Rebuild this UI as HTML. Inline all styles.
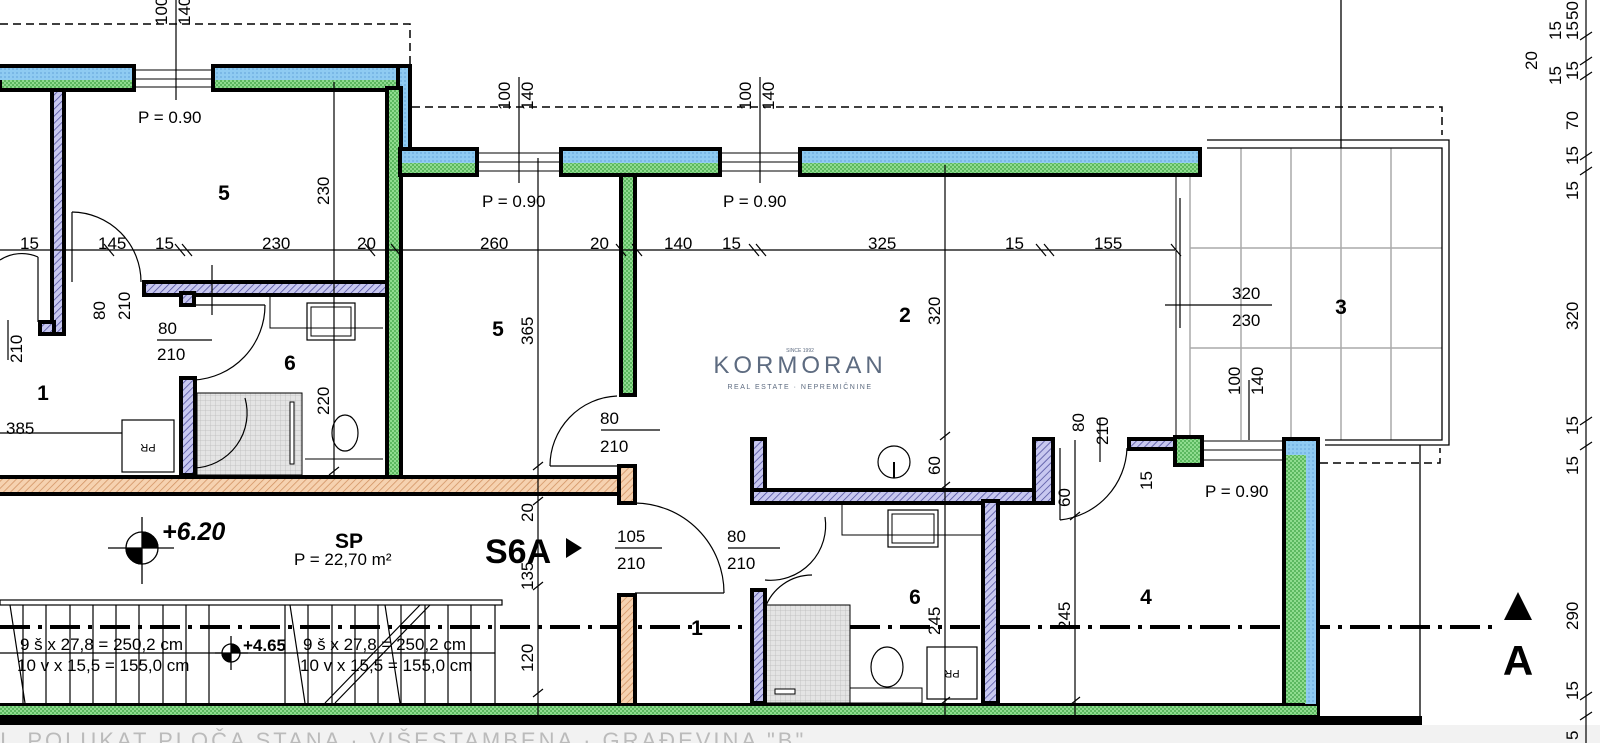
<!DOCTYPE html>
<html><head><meta charset="utf-8"><style>
html,body{margin:0;padding:0;background:#fff;}
svg{display:block;font-family:"Liberation Sans",sans-serif;}
</style></head><body>
<svg width="1600" height="743" viewBox="0 0 1600 743" xmlns="http://www.w3.org/2000/svg">
<defs>
<pattern id="g" width="4" height="4" patternUnits="userSpaceOnUse"><rect width="4" height="4" fill="#8fdc8f"/><rect width="2" height="2" fill="#5cb860"/><rect x="2" y="2" width="2" height="2" fill="#5cb860"/></pattern>
<pattern id="b" width="4" height="4" patternUnits="userSpaceOnUse"><rect width="4" height="4" fill="#8fcbf2"/><rect width="2" height="2" fill="#7ab8e6"/></pattern>
<pattern id="p" width="5" height="5" patternUnits="userSpaceOnUse" patternTransform="rotate(45)"><rect width="5" height="5" fill="#c8c8f0"/><line x1="0" y1="0" x2="0" y2="5" stroke="#4a4a9a" stroke-width="1.5"/></pattern>
<pattern id="o" width="5" height="5" patternUnits="userSpaceOnUse" patternTransform="rotate(45)"><rect width="5" height="5" fill="#f6d2b0"/><line x1="0" y1="0" x2="0" y2="5" stroke="#d09060" stroke-width="1.5"/></pattern>
<pattern id="s" width="5" height="5" patternUnits="userSpaceOnUse"><rect width="5" height="5" fill="#e4e4e4"/><path d="M0 0H5M0 0V5" stroke="#b8b8b8" stroke-width="0.7"/></pattern>
</defs>

<g stroke="#000" stroke-width="1.5" stroke-dasharray="8,5" fill="none">
<path d="M0 24H410V64"/>
<path d="M412 107H1442V135"/>
<path d="M1320 463H1440V448"/>
</g>

<g stroke="#aaa" stroke-width="1.5" fill="none">
<line x1="1241" y1="148" x2="1241" y2="440"/><line x1="1291" y1="148" x2="1291" y2="440"/>
<line x1="1341" y1="148" x2="1341" y2="440"/><line x1="1391" y1="148" x2="1391" y2="440"/>
<line x1="1190" y1="248" x2="1442" y2="248"/><line x1="1190" y1="348" x2="1442" y2="348"/>
<line x1="1190" y1="177" x2="1190" y2="437"/>
</g>
<g stroke="#000" stroke-width="1.3" fill="none">
<path d="M1207 140H1449V445H1325"/><path d="M1207 148H1442V440H1325"/>
<line x1="1341" y1="0" x2="1341" y2="148"/>
<line x1="1420" y1="445" x2="1420" y2="717"/>
</g>

<g stroke="#000" stroke-width="1.2" fill="none">
<rect x="0" y="600" width="502" height="5"/>
<line x1="0" y1="653" x2="495" y2="653"/>
<path d="M23 605V703M46 605V703M70 605V703M93 605V703M116 605V703M139 605V703M163 605V703M186 605V703M209 605V703M285 605V703M308 605V703M332 605V703M355 605V703M378 605V703M401 605V703M425 605V703M448 605V703M471 605V703M495 605V703"/>
<path d="M10 605L25 703M290 605L305 703M385 605L400 703M325 703L420 605M335 703L430 605"/>
</g>

<line x1="0" y1="627" x2="1500" y2="627" stroke="#000" stroke-width="4" stroke-dasharray="30,8,4,8"/>
<polygon points="1518,592 1504,620 1532,620" fill="#000"/>
<text x="1518" y="675" font-size="42" font-weight="bold" text-anchor="middle">A</text>

<rect x="197" y="393" width="105" height="82" fill="url(#s)" stroke="#000" stroke-width="1"/>
<rect x="290" y="402" width="4" height="62" fill="#fff" stroke="#000"/>
<rect x="122" y="420" width="52" height="52" fill="none" stroke="#000" stroke-width="1.2"/>
<text x="148" y="452" font-size="11" text-anchor="middle" transform="rotate(180 148 448)">PR</text>
<ellipse cx="345" cy="433" rx="13" ry="18" fill="none" stroke="#000" stroke-width="1.2"/>
<path d="M305 459H383M270 297V328H383" fill="none" stroke="#000" stroke-width="1"/>
<rect x="307" y="303" width="48" height="37" fill="none" stroke="#000" stroke-width="1.2"/>
<rect x="311" y="307" width="40" height="29" fill="none" stroke="#000" stroke-width="1"/>

<rect x="765" y="605" width="85" height="98" fill="url(#s)" stroke="#000" stroke-width="1"/>
<rect x="775" y="689" width="20" height="5" fill="#fff" stroke="#000"/>
<ellipse cx="887" cy="667" rx="16" ry="20" fill="none" stroke="#000" stroke-width="1.2"/>
<rect x="850" y="688" width="72" height="15" fill="none" stroke="#000"/>
<rect x="927" y="647" width="50" height="52" fill="none" stroke="#000" stroke-width="1.2"/>
<text x="952" y="678" font-size="11" text-anchor="middle" transform="rotate(180 952 674)">PR</text>
<path d="M842 503V535H981" fill="none" stroke="#000"/>
<rect x="888" y="510" width="50" height="37" fill="none" stroke="#000" stroke-width="1.2"/>
<rect x="892" y="514" width="42" height="29" fill="none" stroke="#000"/>
<circle cx="894" cy="462" r="16" fill="none" stroke="#000" stroke-width="1.2"/>
<line x1="894" y1="462" x2="894" y2="478" stroke="#000" stroke-width="2"/>

<g fill="none" stroke="#000" stroke-width="1.2">
<path d="M72 212A70 70 0 0 1 141 282"/><line x1="72" y1="212" x2="72" y2="282"/>
<path d="M0 260A40 40 0 0 1 38 257"/><line x1="38" y1="257" x2="38" y2="322"/>
<path d="M194 380A75 75 0 0 0 265 305"/><line x1="194" y1="305" x2="265" y2="305"/>
<path d="M245 398A55 55 0 0 1 194 468"/>
<path d="M550 466A70 70 0 0 1 617 396"/><line x1="550" y1="466" x2="617" y2="466"/>
<path d="M635 503A90 90 0 0 1 724 593"/><line x1="635" y1="593" x2="724" y2="593"/>
<path d="M765 580A55 55 0 0 0 825 517"/>
<path d="M765 608A50 50 0 0 1 812 575"/>
<path d="M1060 520A75 75 0 0 0 1127 448"/><line x1="1060" y1="448" x2="1060" y2="520"/>
</g>

<g stroke="#000" stroke-width="4">
<rect x="0" y="66" width="134" height="24" fill="url(#g)"/>
<rect x="0" y="68" width="132" height="12" fill="url(#b)" stroke="none"/>
<rect x="213" y="66" width="197" height="24" fill="url(#g)"/>
<rect x="215" y="68" width="193" height="12" fill="url(#b)" stroke="none"/>
<rect x="398" y="66" width="12" height="109" fill="url(#b)"/>
<rect x="387" y="88" width="14" height="389" fill="url(#g)"/>
<rect x="400" y="149" width="77" height="26" fill="url(#g)"/>
<rect x="402" y="151" width="73" height="12" fill="url(#b)" stroke="none"/>
<rect x="561" y="149" width="159" height="26" fill="url(#g)"/>
<rect x="563" y="151" width="155" height="12" fill="url(#b)" stroke="none"/>
<rect x="800" y="149" width="400" height="26" fill="url(#g)"/>
<rect x="802" y="151" width="396" height="12" fill="url(#b)" stroke="none"/>
<rect x="621" y="175" width="14" height="220" fill="url(#g)"/>
<rect x="52" y="90" width="12" height="244" fill="url(#p)"/>
<rect x="40" y="322" width="14" height="12" fill="url(#p)"/>
<rect x="144" y="282" width="243" height="13" fill="url(#p)"/>
<rect x="181" y="293" width="13" height="12" fill="url(#p)"/>
<rect x="181" y="378" width="14" height="97" fill="url(#p)"/>
<rect x="-5" y="477" width="640" height="17" fill="url(#o)"/>
<rect x="619" y="466" width="16" height="37" fill="url(#o)"/>
<rect x="619" y="595" width="16" height="110" fill="url(#o)"/>
<rect x="752" y="439" width="13" height="62" fill="url(#p)"/>
<rect x="752" y="490" width="301" height="13" fill="url(#p)"/>
<rect x="1034" y="439" width="19" height="64" fill="url(#p)"/>
<rect x="983" y="501" width="15" height="202" fill="url(#p)"/>
<rect x="752" y="590" width="13" height="113" fill="url(#p)"/>
<rect x="1129" y="439" width="46" height="10" fill="url(#p)"/>
<rect x="1175" y="437" width="27" height="28" fill="url(#g)"/>
<rect x="1284" y="439" width="34" height="278" fill="url(#b)"/>
<rect x="1286" y="455" width="20" height="250" fill="url(#g)" stroke="none"/>
<rect x="-5" y="705" width="1323" height="11" fill="url(#g)" stroke-width="2"/>
</g>
<rect x="0" y="716" width="1422" height="9" fill="#000"/>
<rect x="0" y="725" width="1600" height="18" fill="#f2f2f2"/>
<rect x="0" y="703" width="1305" height="3" fill="#000"/>
<text x="0" y="748" font-size="22" fill="#bbb" letter-spacing="3">I. POLUKAT PLOČA STANA · VIŠESTAMBENA · GRAĐEVINA "B"</text>
<g stroke="#000" stroke-width="1" fill="none">
<path d="M134 70H213M134 79H213M134 87H213"/>
<path d="M477 153H561M477 162H561M477 171H561"/>
<path d="M720 153H800M720 162H800M720 171H800"/>
<path d="M1202 441H1284M1202 450H1284M1202 460H1284"/>
<line x1="1176" y1="175" x2="1176" y2="437"/>
</g>

<g stroke="#000" stroke-width="1.2" fill="none">
<line x1="0" y1="250" x2="1175" y2="250"/>
<line x1="176" y1="0" x2="176" y2="100"/>
<line x1="519" y1="77" x2="519" y2="183"/><line x1="538" y1="158" x2="538" y2="725"/>
<line x1="760" y1="77" x2="760" y2="183"/>
<line x1="334" y1="82" x2="334" y2="475"/>
<line x1="945" y1="165" x2="945" y2="725"/>
<line x1="1075" y1="440" x2="1075" y2="725"/>
<line x1="1180" y1="198" x2="1180" y2="328"/><line x1="1165" y1="305" x2="1272" y2="305"/>
<line x1="1249" y1="380" x2="1249" y2="440"/>
<line x1="1586" y1="0" x2="1586" y2="743"/>
<line x1="212" y1="265" x2="212" y2="315"/><line x1="157" y1="340" x2="212" y2="340"/>
<line x1="601" y1="430" x2="660" y2="430"/><line x1="615" y1="548" x2="662" y2="548"/>
<line x1="728" y1="548" x2="780" y2="548"/><line x1="1100" y1="418" x2="1100" y2="462"/>
<line x1="0" y1="433" x2="122" y2="433"/>
<line x1="8" y1="320" x2="8" y2="360"/>
<path d="M175 244l10 12M182 244l10 12M365 244l10 12M391 244l10 12M749 244l10 12M756 244l10 12M1036 244l10 12M1044 244l10 12M1171 244l10 12M616 244l10 12M632 244l10 12M104 244l10 12"/>
<path d="M940 440l10 -8M940 490l10 -8M940 705l10 -8M1070 520l10 -8M1070 705l10 -8M533 470l10 -8M533 697l10 -8M533 505l10 -8M533 590l10 -8M329 475l10 -8"/>
<path d="M1580 40l12 -8M1580 65l12 -8M1580 80l12 -8M1580 160l12 -8M1580 175l12 -8M1580 425l12 -8M1580 450l12 -8M1580 700l12 -8M1580 720l12 -8"/>
</g>

<g font-size="17" fill="#000">
<text x="138" y="123">P =  0.90</text>
<text x="482" y="207">P =  0.90</text>
<text x="723" y="207">P =  0.90</text>
<text x="1205" y="497">P =  0.90</text>
<text x="20" y="249">15</text><text x="98" y="249">145</text><text x="155" y="249">15</text>
<text x="262" y="249">230</text><text x="357" y="249">20</text><text x="480" y="249">260</text>
<text x="590" y="249">20</text><text x="664" y="249">140</text><text x="722" y="249">15</text>
<text x="868" y="249">325</text><text x="1005" y="249">15</text><text x="1094" y="249">155</text>
<text x="1232" y="299">320</text><text x="1232" y="326">230</text>
<text x="158" y="334">80</text><text x="157" y="360">210</text>
<text x="600" y="424">80</text><text x="600" y="452">210</text>
<text x="617" y="542">105</text><text x="617" y="569">210</text>
<text x="727" y="542">80</text><text x="727" y="569">210</text>
<text x="6" y="434">385</text>
<text x="20" y="650">9 š x 27,8 = 250,2 cm</text>
<text x="17" y="671">10 v x 15,5 = 155,0 cm</text>
<text x="303" y="650">9 š x 27,8 = 250,2 cm</text>
<text x="300" y="671">10 v x 15,5 = 155,0 cm</text>
<text x="294" y="565">P = 22,70 m²</text>
</g>
<g font-size="17">
<text transform="translate(167,25) rotate(-90)">100</text><text transform="translate(190,25) rotate(-90)">140</text>
<text transform="translate(510,110) rotate(-90)">100</text><text transform="translate(533,110) rotate(-90)">140</text>
<text transform="translate(751,110) rotate(-90)">100</text><text transform="translate(774,110) rotate(-90)">140</text>
<text transform="translate(1240,395) rotate(-90)">100</text><text transform="translate(1263,395) rotate(-90)">140</text>
<text transform="translate(329,205) rotate(-90)">230</text>
<text transform="translate(533,345) rotate(-90)">365</text>
<text transform="translate(940,325) rotate(-90)">320</text>
<text transform="translate(329,415) rotate(-90)">220</text>
<text transform="translate(105,320) rotate(-90)">80</text><text transform="translate(130,320) rotate(-90)">210</text>
<text transform="translate(22,363) rotate(-90)">210</text>
<text transform="translate(533,522) rotate(-90)">20</text>
<text transform="translate(533,590) rotate(-90)">135</text>
<text transform="translate(533,672) rotate(-90)">120</text>
<text transform="translate(940,475) rotate(-90)">60</text>
<text transform="translate(940,635) rotate(-90)">245</text>
<text transform="translate(1070,630) rotate(-90)">245</text>
<text transform="translate(1070,507) rotate(-90)">60</text>
<text transform="translate(1084,432) rotate(-90)">80</text><text transform="translate(1108,445) rotate(-90)">210</text>
<text transform="translate(1152,490) rotate(-90)">15</text>
<text transform="translate(1537,70) rotate(-90)">20</text>
<text transform="translate(1578,20) rotate(-90)">50</text>
<text transform="translate(1561,40) rotate(-90)">15</text><text transform="translate(1578,40) rotate(-90)">15</text>
<text transform="translate(1561,85) rotate(-90)">15</text><text transform="translate(1578,80) rotate(-90)">15</text>
<text transform="translate(1578,130) rotate(-90)">70</text>
<text transform="translate(1578,165) rotate(-90)">15</text><text transform="translate(1578,200) rotate(-90)">15</text>
<text transform="translate(1578,330) rotate(-90)">320</text>
<text transform="translate(1578,435) rotate(-90)">15</text><text transform="translate(1578,475) rotate(-90)">15</text>
<text transform="translate(1578,630) rotate(-90)">290</text>
<text transform="translate(1578,700) rotate(-90)">15</text><text transform="translate(1578,740) rotate(-90)">5</text>
</g>
<g font-size="21" font-weight="bold" text-anchor="middle">
<text x="224" y="200">5</text><text x="498" y="336">5</text><text x="290" y="370">6</text>
<text x="43" y="400">1</text><text x="905" y="322">2</text><text x="1341" y="314">3</text>
<text x="1146" y="604">4</text><text x="915" y="604">6</text><text x="697" y="635">1</text>
<text x="349" y="548">SP</text>
</g>
<text x="485" y="563" font-size="34" font-weight="bold">S6A</text>
<polygon points="566,538 566,558 582,548" fill="#000"/>
<text x="162" y="540" font-size="25" font-weight="bold" font-style="italic">+6.20</text>
<text x="243" y="651" font-size="17" font-weight="bold">+4.65</text>
<g stroke="#000" stroke-width="1.3">
<line x1="142" y1="517" x2="142" y2="584"/><line x1="108" y1="548" x2="174" y2="548"/>
<circle cx="142" cy="548" r="16" fill="#fff"/>
<path d="M142 532A16 16 0 0 1 158 548H142Z" fill="#000"/><path d="M142 564A16 16 0 0 1 126 548H142Z" fill="#000"/>
<line x1="231" y1="636" x2="231" y2="670"/><line x1="215" y1="653" x2="248" y2="653"/>
<circle cx="231" cy="653" r="9" fill="#fff"/>
<path d="M231 644A9 9 0 0 1 240 653H231Z" fill="#000"/><path d="M231 662A9 9 0 0 1 222 653H231Z" fill="#000"/>
</g>
<g fill="#5d6b80" text-anchor="middle">
<text x="800" y="352" font-size="5">SINCE 1992</text>
<text x="800" y="373" font-size="24" letter-spacing="4" font-weight="300">KORMORAN</text>
<text x="800" y="389" font-size="7" letter-spacing="1.5">REAL ESTATE · NEPREMIČNINE</text>
</g>
</svg>
</body></html>
